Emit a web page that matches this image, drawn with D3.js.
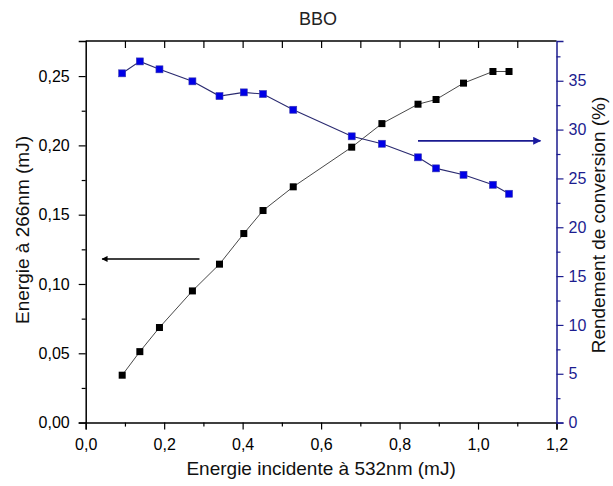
<!DOCTYPE html>
<html><head><meta charset="utf-8">
<script src="https://cdn.jsdelivr.net/npm/d3@7"></script>
<style>body{margin:0;background:#fff}svg{display:block}text{font-family:"Liberation Sans",Arial,sans-serif}</style>
</head><body><svg id="c" width="613" height="486"></svg>
<script>
const energyIn = [0.093,0.138,0.188,0.272,0.341,0.403,0.452,0.529,0.678,0.755,0.847,0.893,0.963,1.038,1.079];
const energy266 = [0.0342,0.0512,0.0686,0.0950,0.1143,0.1364,0.1530,0.1701,0.1987,0.2157,0.2297,0.2331,0.2449,0.2533,0.2533];
const efficiency = [35.76,36.98,36.17,34.94,33.43,33.81,33.64,32.03,29.31,28.55,27.16,26.03,25.37,24.35,23.43];
const xTicks = [0,0.2,0.4,0.6,0.8,1.0,1.2];
const yLeftTicks = [0,0.05,0.10,0.15,0.20,0.25];
const yRightTicks = [0,5,10,15,20,25,30,35];

const svg = d3.select("#c");
const L=85.7,R=556.5,T=41,B=422.6;
const x = d3.scaleLinear().domain([0,1.2]).range([L,R]);
const yL = d3.scaleLinear().domain([0,0.2753]).range([B,T]);
const yR = d3.scaleLinear().domain([0,39.07]).range([B,T]);
const comma = (d,p)=>d3.format("."+p+"f")(d).replace(".",",");
const navy="#1c1c8f";

// title
svg.append("text").attr("x",318).attr("y",25).attr("text-anchor","middle").attr("font-size",18).attr("fill","#222").text("BBO");

// bottom axis
svg.append("g").attr("transform",`translate(0,${B})`)
  .call(d3.axisBottom(x).tickValues(xTicks).tickFormat(d=>comma(d,1)).tickSize(7).tickPadding(9));
svg.append("g").attr("transform",`translate(0,${B})`)
  .call(d3.axisBottom(x).tickValues(d3.range(0.1,1.2,0.2)).tickFormat("").tickSize(4)).select(".domain").remove();
// top axis (ticks inward)
svg.append("g").attr("transform",`translate(0,${T})`)
  .call(d3.axisBottom(x).tickValues(d3.range(0.1,1.2,0.1)).tickFormat("").tickSize(7)).select(".domain").remove();
svg.append("line").attr("x1",L).attr("x2",R).attr("y1",T).attr("y2",T).attr("stroke","#000").attr("stroke-width",1.5);

// left axis
svg.append("g").attr("transform",`translate(${L},0)`)
  .call(d3.axisLeft(yL).tickValues(yLeftTicks).tickFormat(d=>comma(d,2)).tickSize(7).tickPadding(9));
svg.append("g").attr("transform",`translate(${L},0)`)
  .call(d3.axisLeft(yL).tickValues(d3.range(0.025,0.27,0.05)).tickFormat("").tickSize(4)).select(".domain").remove();

// right axis
const gr = svg.append("g").attr("transform",`translate(${R},0)`)
  .call(d3.axisRight(yR).tickValues(yRightTicks).tickFormat(d3.format("d")).tickSize(7).tickPadding(5));
const gr2 = svg.append("g").attr("transform",`translate(${R},0)`)
  .call(d3.axisRight(yR).tickValues(d3.range(2.5,39,5)).tickFormat("").tickSize(4));
gr2.select(".domain").remove();
gr.selectAll("line,path").attr("stroke",navy);
gr2.selectAll("line").attr("stroke",navy);
gr.selectAll("text").attr("fill",navy);

svg.selectAll(".tick text").attr("font-size",16).attr("font-family","Liberation Sans, Arial, sans-serif");
svg.selectAll(".domain").attr("stroke-width",1.5);
svg.selectAll(".tick line").attr("stroke-width",1.2);

// axis labels
svg.append("text").attr("x",(L+R)/2).attr("y",475).attr("text-anchor","middle").attr("font-size",19).attr("fill","#111").text("Energie incidente à 532nm (mJ)");
svg.append("text").attr("transform",`translate(29,230) rotate(-90)`).attr("text-anchor","middle").attr("font-size",19).attr("fill","#111").text("Energie à 266nm (mJ)");
svg.append("text").attr("transform",`translate(605,225) rotate(-90)`).attr("text-anchor","middle").attr("font-size",19).attr("fill","#111").text("Rendement de conversion (%)");

// lines
const blk = energyIn.map((v,i)=>[v,energy266[i]]);
const blu = energyIn.map((v,i)=>[v,efficiency[i]]);
svg.append("path").datum(blk).attr("fill","none").attr("stroke","#333").attr("stroke-width",0.9)
  .attr("d",d3.line().x(d=>x(d[0])).y(d=>yL(d[1])));
svg.append("path").datum(blu).attr("fill","none").attr("stroke","#2a2a70").attr("stroke-width",1.1)
  .attr("d",d3.line().x(d=>x(d[0])).y(d=>yR(d[1])));
const s=7;
svg.selectAll(".mb").data(blk).join("rect").attr("x",d=>x(d[0])-s/2).attr("y",d=>yL(d[1])-s/2).attr("width",s).attr("height",s).attr("fill","#000");
svg.selectAll(".mu").data(blu).join("rect").attr("x",d=>x(d[0])-s/2).attr("y",d=>yR(d[1])-s/2).attr("width",s).attr("height",s).attr("fill","#0000e6").attr("stroke","#3a3ab0").attr("stroke-width",0.6);

// arrows
const defs = svg.append("defs");
defs.append("marker").attr("id","ak").attr("viewBox","0 0 10 10").attr("refX",9).attr("refY",5).attr("markerWidth",9).attr("markerHeight",6).attr("orient","auto").attr("markerUnits","userSpaceOnUse")
  .append("path").attr("d","M0,0L10,5L0,10z").attr("fill","#000");
defs.append("marker").attr("id","ab").attr("viewBox","0 0 10 10").attr("refX",9).attr("refY",5).attr("markerWidth",14).attr("markerHeight",8).attr("orient","auto").attr("markerUnits","userSpaceOnUse")
  .append("path").attr("d","M0,0L10,5L0,10z").attr("fill","#1a1aa0");
svg.append("line").attr("x1",x(0.29)).attr("x2",x(0.042)).attr("y1",yL(0.1181)).attr("y2",yL(0.1181)).attr("stroke","#000").attr("stroke-width",1.5).attr("marker-end","url(#ak)");
svg.append("line").attr("x1",x(0.847)).attr("x2",x(1.159)).attr("y1",yR(28.85)).attr("y2",yR(28.85)).attr("stroke","#1a1a90").attr("stroke-width",1.8).attr("marker-end","url(#ab)");
</script></body></html>
